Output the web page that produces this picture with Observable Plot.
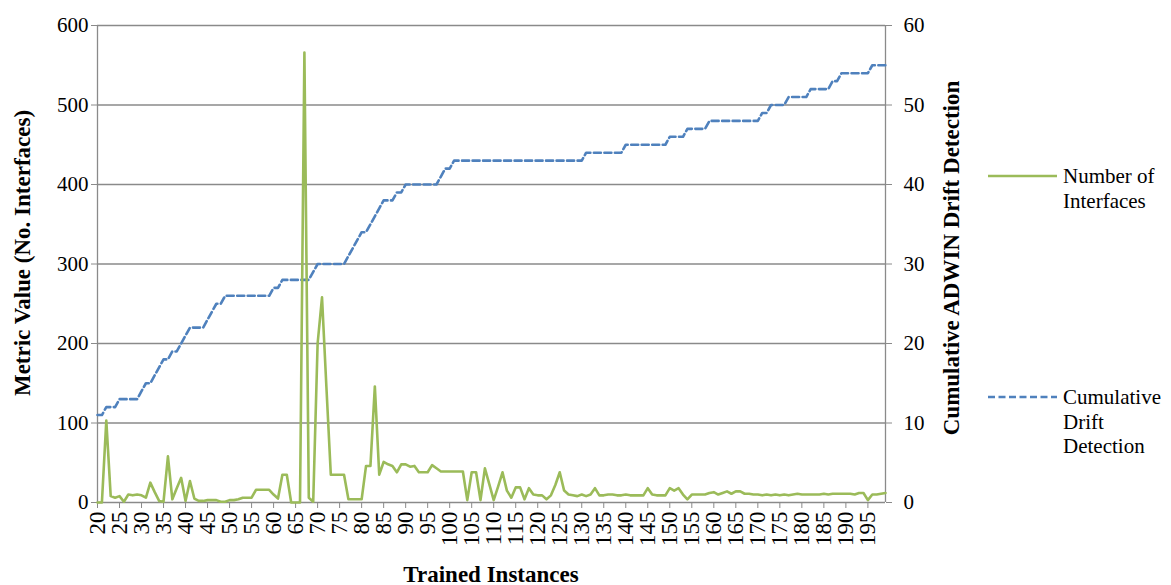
<!DOCTYPE html>
<html><head><meta charset="utf-8">
<script src="https://cdn.jsdelivr.net/npm/d3@7"></script>
<script src="https://cdn.jsdelivr.net/npm/@observablehq/plot@0.6"></script>
<style>
body{margin:0;background:#fff;font-family:"Liberation Serif",serif}
#wrap{position:relative;width:1171px;height:585px}
</style>
</head><body><div id="wrap"></div>
<script>
// Trained instances 20..199
const firstInstance = 20;
const interfaces = [
0,0,103,8,6,8,1,10,9,10, 9,6,25,13,2,1,58,4,18,31,
2,27,5,2,2,3,3,3,1,1, 3,3,4,6,6,6,16,16,16,16,
10,5,35,35,0,0,0,566,6,1, 200,258,145,35,35,35,35,4,4,4,
4,46,46,146,35,51,48,46,38,48, 48,45,46,38,38,38,47,43,39,39,
39,39,39,39,3,38,38,3,43,23, 3,20,38,15,6,19,19,4,18,10,
9,9,4,9,22,38,15,10,9,8, 10,8,10,18,9,9,10,10,9,9,
10,9,9,9,9,18,10,9,9,9, 18,15,18,10,4,10,10,10,10,12,
13,10,12,14,11,14,14,11,11,10, 10,9,10,9,10,9,10,9,10,11,
10,10,10,10,10,11,10,11,11,11, 11,11,10,12,12,3,10,10,11,12
];
const drift = [
11,11,12,12,12,13,13,13,13,13, 14,15,15,16,17,18,18,19,19,20,
21,22,22,22,22,23,24,25,25,26, 26,26,26,26,26,26,26,26,26,26,
27,27,28,28,28,28,28,28,28,29, 30,30,30,30,30,30,30,31,32,33,
34,34,35,36,37,38,38,38,39,39, 40,40,40,40,40,40,40,40,41,42,
42,43,43,43,43,43,43,43,43,43, 43,43,43,43,43,43,43,43,43,43,
43,43,43,43,43,43,43,43,43,43, 43,44,44,44,44,44,44,44,44,44,
45,45,45,45,45,45,45,45,45,45, 46,46,46,46,47,47,47,47,47,48,
48,48,48,48,48,48,48,48,48,48, 48,49,49,50,50,50,50,51,51,51,
51,51,52,52,52,52,52,53,53,54, 54,54,54,54,54,54,55,55,55,55
];
const xTicks = [20,25,30,35,40,45,50,55,60,65,70,75,80,85,90,95,100,105,110,115,120,125,130,135,140,145,150,155,160,165,170,175,180,185,190,195];
const leftTicks = [0,100,200,300,400,500,600];
const rightTickLabels = [0,10,20,30,40,50,60];
const seriesNames = ["Number of Interfaces","Cumulative Drift Detection"];

const data = interfaces.map((v,i)=>({inst:firstInstance+i, ifaces:v, drift:drift[i]}));
const gray = "#8a8a8a";
const FONT = "Liberation Serif";

const plot = Plot.plot({
  width:1171, height:585,
  marginLeft:97, marginRight:286, marginTop:25, marginBottom:83,
  style:{background:"#fff", color:"#000", overflow:"visible"},
  x:{domain:[20,199]},
  y:{domain:[0,600]},
  marks:[
    Plot.gridY(leftTicks,{stroke:gray, strokeOpacity:1, strokeWidth:1.3}),
    Plot.ruleX([20],{stroke:gray, strokeWidth:1.3}),
    Plot.ruleX([199],{stroke:gray, strokeWidth:1.3}),
    Plot.axisY(leftTicks,{anchor:"left", tickSize:6, tickPadding:3, fontSize:21, stroke:gray, fill:"#000", label:null}),
    Plot.axisY(leftTicks,{anchor:"right", tickSize:6, tickPadding:12, fontSize:21, stroke:gray, fill:"#000", label:null,
      tickFormat:(d)=>String(rightTickLabels[leftTicks.indexOf(d)])}),
    Plot.axisX(xTicks,{anchor:"bottom", tickRotate:-90, tickSize:6, tickPadding:3, fontSize:23, stroke:gray, fill:"#000", label:null}),
    Plot.line(data,{x:"inst", y:d=>d.drift*10, stroke:"#4f81bd", strokeWidth:2.6, strokeDasharray:"7,3.5"}),
    Plot.line(data,{x:"inst", y:"ifaces", stroke:"#9bbb59", strokeWidth:2.6})
  ]
});
document.getElementById("wrap").appendChild(plot);

const svg = d3.select(plot);
// drop Plot's injected stylesheet and font attributes that could interfere
svg.selectAll("style").remove();
svg.selectAll("[font-variant]").attr("font-variant", null);

const bold = (t, x, y, rot)=> svg.append("text")
  .attr("transform", rot ? `translate(${x},${y}) rotate(-90)` : `translate(${x},${y})`)
  .attr("text-anchor","middle")
  .attr("dominant-baseline", rot ? "central" : "auto")
  .attr("font-weight","bold")
  .attr("font-size",23).attr("fill","#000").text(t);
bold("Metric Value (No. Interfaces)", 22, 253, true);
bold("Cumulative ADWIN Drift Detection", 951, 258, true);
bold("Trained Instances", 491, 582, false);

// legend
const leg = svg.append("g").attr("font-size",21).attr("fill","#000").attr("text-anchor","start");
const items = [
  {name:seriesNames[0], lines:["Number of","Interfaces"], y:176, color:"#9bbb59", dash:null},
  {name:seriesNames[1], lines:["Cumulative","Drift","Detection"], y:397, color:"#4f81bd", dash:"7,3.5"}
];
items.forEach(it=>{
  const l = leg.append("line").attr("x1",988).attr("x2",1057).attr("y1",it.y).attr("y2",it.y)
    .attr("stroke",it.color).attr("stroke-width",2.6);
  if (it.dash) l.attr("stroke-dasharray",it.dash);
  it.lines.forEach((s,k)=>leg.append("text").attr("x",1063).attr("y",it.y+k*24.5+7)
    .attr("text-anchor","start").text(s));
});

// force serif font on every text element
svg.attr("font-family", FONT);
svg.selectAll("g").attr("font-family", FONT);
svg.selectAll("text").each(function(){
  const t = d3.select(this);
  t.attr("font-family", FONT).style("font-family", FONT).style("white-space", null);
  if (t.attr("font-weight") !== "bold") t.attr("font-weight", "normal");
});
</script>
</body></html>
